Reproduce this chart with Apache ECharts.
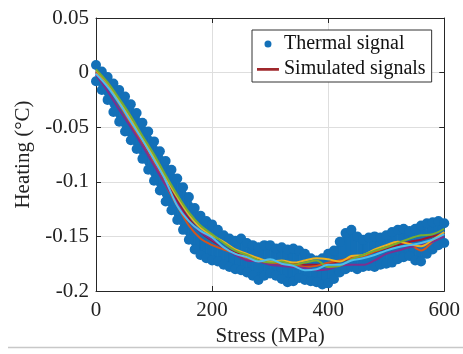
<!DOCTYPE html>
<html><head><meta charset="utf-8">
<script src="https://cdn.jsdelivr.net/npm/echarts@6/dist/echarts.min.js"></script>
<style>html,body{margin:0;padding:0;background:#fff}#c{width:463px;height:354px}</style>
</head><body><div id="c"></div>
<script>
// ---- data ----
const xTicks = [0, 200, 400, 600];
const yTicks = [-0.2, -0.15, -0.1, -0.05, 0, 0.05];

const bandStress = [0,10,20,30,40,50,60,70,80,90,100,110,120,130,140,150,160,170,180,190,200,
  210,220,230,240,250,260,270,280,290,300,310,320,330,340,350,360,370,380,390,400,
  410,420,430,440,450,460,470,480,490,500,510,520,530,540,550,560,570,580,590,600];
const thermalTop = [0.007,0.001,-0.004,-0.010,-0.016,-0.022,-0.029,-0.037,-0.046,-0.054,-0.063,
  -0.072,-0.081,-0.089,-0.097,-0.105,-0.114,-0.124,-0.131,-0.136,-0.139,
  -0.144,-0.149,-0.152,-0.154,-0.152,-0.156,-0.158,-0.160,-0.158,-0.158,
  -0.161,-0.160,-0.162,-0.161,-0.163,-0.166,-0.170,-0.172,-0.170,-0.166,
  -0.163,-0.155,-0.147,-0.144,-0.150,-0.153,-0.151,-0.150,-0.151,-0.149,
  -0.146,-0.144,-0.143,-0.145,-0.143,-0.140,-0.138,-0.137,-0.136,-0.138];
const thermalBottom = [-0.008,-0.016,-0.025,-0.036,-0.045,-0.054,-0.062,-0.070,-0.079,-0.089,-0.099,
  -0.108,-0.118,-0.126,-0.135,-0.144,-0.153,-0.162,-0.167,-0.170,-0.172,
  -0.173,-0.176,-0.178,-0.180,-0.181,-0.183,-0.186,-0.190,-0.186,-0.184,
  -0.186,-0.189,-0.192,-0.191,-0.188,-0.190,-0.191,-0.192,-0.194,-0.193,
  -0.189,-0.183,-0.180,-0.178,-0.180,-0.178,-0.177,-0.178,-0.176,-0.175,
  -0.174,-0.171,-0.169,-0.168,-0.172,-0.173,-0.166,-0.162,-0.158,-0.156];

const simStress = [0,20,40,60,80,100,120,140,160,180,200,220,240,260,280,300,
  320,340,360,380,400,420,440,460,480,500,520,540,560,580,600];
const simDarkRed = [0.001,-0.011,-0.028,-0.046,-0.064,-0.082,-0.100,-0.118,-0.134,-0.146,-0.154,
  -0.160,-0.165,-0.168,-0.171,-0.174,-0.175,-0.175,-0.176,-0.176,-0.175,
  -0.173,-0.170,-0.167,-0.164,-0.161,-0.158,-0.155,-0.153,-0.150,-0.147];
const simOrange = [0.000,-0.012,-0.029,-0.047,-0.066,-0.084,-0.103,-0.122,-0.140,-0.152,-0.158,
  -0.162,-0.166,-0.170,-0.173,-0.174,-0.175,-0.176,-0.178,-0.177,-0.174,
  -0.172,-0.170,-0.168,-0.164,-0.160,-0.155,-0.157,-0.163,-0.155,-0.147];
const simYellow = [0.002,-0.010,-0.026,-0.043,-0.060,-0.078,-0.096,-0.114,-0.130,-0.142,-0.149,
  -0.155,-0.162,-0.166,-0.170,-0.173,-0.172,-0.174,-0.172,-0.170,-0.171,
  -0.173,-0.168,-0.167,-0.162,-0.158,-0.155,-0.157,-0.159,-0.153,-0.146];
const simPurple = [-0.002,-0.017,-0.034,-0.050,-0.067,-0.085,-0.103,-0.120,-0.136,-0.146,-0.153,
  -0.160,-0.167,-0.172,-0.173,-0.176,-0.177,-0.178,-0.179,-0.181,-0.180,
  -0.177,-0.176,-0.176,-0.172,-0.166,-0.163,-0.160,-0.158,-0.155,-0.150];
const simGreen = [0.003,-0.009,-0.024,-0.040,-0.058,-0.075,-0.094,-0.112,-0.128,-0.140,-0.148,
  -0.156,-0.163,-0.167,-0.172,-0.174,-0.173,-0.176,-0.174,-0.172,-0.178,
  -0.177,-0.171,-0.167,-0.163,-0.160,-0.156,-0.152,-0.149,-0.148,-0.143];
const simCyan = [-0.001,-0.013,-0.028,-0.045,-0.062,-0.080,-0.099,-0.122,-0.136,-0.145,-0.151,
  -0.160,-0.166,-0.169,-0.173,-0.171,-0.175,-0.177,-0.181,-0.180,-0.176,
  -0.176,-0.172,-0.170,-0.167,-0.163,-0.160,-0.158,-0.156,-0.153,-0.148];

// ---- chart ----
const FONT = 'Liberation Serif';
const BLUE = '#1370b8';
const pair = (xs, ys) => xs.map((x, i) => [x, ys[i]]);
const fmt = v => String(+(+v).toFixed(2));

const bandData = bandStress.map((s, i) => [s, thermalTop[i], thermalBottom[i]]);
const edgeDots = pair(bandStress, thermalTop).concat(pair(bandStress, thermalBottom));

function simLine(name, data, color) {
  return { name, type: 'line', data: pair(simStress, data), smooth: 0.35,
    symbol: 'none', lineStyle: { color, width: 2 }, itemStyle: { color }, z: 5 };
}
const axisCommon = {
  axisLine: { show: true, onZero: false, lineStyle: { color: '#262626', width: 1 } },
  axisTick: { show: true, inside: true, length: 5, lineStyle: { color: '#262626' } }
};

const chart = echarts.init(document.getElementById('c'), null, { renderer: 'canvas' });
chart.setOption({
  animation: false,
  backgroundColor: '#fff',
  grid: { left: 96, right: 17, top: 18, bottom: 63 },
  legend: {
    left: 252, top: 30, orient: 'vertical',
    backgroundColor: '#fff', borderColor: '#333', borderWidth: 1,
    padding: [4, 6, 3, 5], itemGap: 5, itemWidth: 22, itemHeight: 7,
    textStyle: { fontFamily: FONT, fontSize: 20, color: '#111' },
    data: [
      { name: 'Thermal signal', icon: 'circle', itemStyle: { color: BLUE, opacity: 1 } },
      { name: 'Simulated signals',
        icon: 'path://M0,0L0.01,0L0,0.01Z M0,2.6L22,2.6L22,5.2L0,5.2Z M0,7L0.01,7L0,7.01Z',
        itemStyle: { color: '#A0282C' } }
    ]
  },
  xAxis: [
    Object.assign({ type: 'value', min: 0, max: 600, interval: 200, position: 'bottom',
      name: 'Stress (MPa)', nameLocation: 'middle', nameGap: 35,
      nameTextStyle: { fontFamily: FONT, fontSize: 21, color: '#222' },
      axisLabel: { margin: 9, fontFamily: FONT, fontSize: 21, color: '#222', formatter: fmt },
      splitLine: { show: true, lineStyle: { color: '#dedede', width: 1 } } }, axisCommon),
    Object.assign({ type: 'value', min: 0, max: 600, interval: 200, position: 'top',
      axisLabel: { show: false }, splitLine: { show: false } }, axisCommon)
  ],
  yAxis: [
    Object.assign({ type: 'value', min: -0.2, max: 0.05, interval: 0.05, position: 'left',
      name: 'Heating (°C)', nameLocation: 'middle', nameGap: 58, nameRotate: 90,
      nameTextStyle: { fontFamily: FONT, fontSize: 21, color: '#222' },
      axisLabel: { margin: 7, fontFamily: FONT, fontSize: 21, color: '#222', formatter: fmt },
      splitLine: { show: true, lineStyle: { color: '#dedede', width: 1 } } }, axisCommon),
    Object.assign({ type: 'value', min: -0.2, max: 0.05, interval: 0.05, position: 'right',
      axisLabel: { show: false }, splitLine: { show: false } }, axisCommon)
  ],
  series: [
    { name: 'band', type: 'custom', data: bandData, z: 2, silent: true,
      renderItem: function (params, api) {
        const i = params.dataIndex;
        if (i >= bandData.length - 1) return null;
        const a = bandData[i], b = bandData[i + 1];
        const p1 = api.coord([a[0], a[1]]), p2 = api.coord([b[0], b[1]]);
        const p3 = api.coord([b[0], b[2]]), p4 = api.coord([a[0], a[2]]);
        return { type: 'polygon', shape: { points: [p1, p2, p3, p4] },
          style: { fill: BLUE, stroke: BLUE, lineWidth: 1 } };
      } },
    { name: 'Thermal signal', type: 'scatter', data: edgeDots, symbol: 'circle',
      symbolSize: 10, itemStyle: { color: BLUE, opacity: 1 }, z: 3 },
    simLine('Simulated signals', simDarkRed, '#A2142F'),
    simLine('sim-orange', simOrange, '#D95319'),
    simLine('sim-purple', simPurple, '#7E2F8E'),
    simLine('sim-yellow', simYellow, '#EDB120'),
    simLine('sim-green', simGreen, '#77AC30'),
    simLine('sim-cyan', simCyan, '#4DBEEE')
  ],
  graphic: [
    { type: 'line', shape: { x1: 8, y1: 347.5, x2: 463, y2: 347.5 },
      style: { stroke: '#c8c8c8', lineWidth: 1.5 }, silent: true }
  ]
});
</script></body></html>
